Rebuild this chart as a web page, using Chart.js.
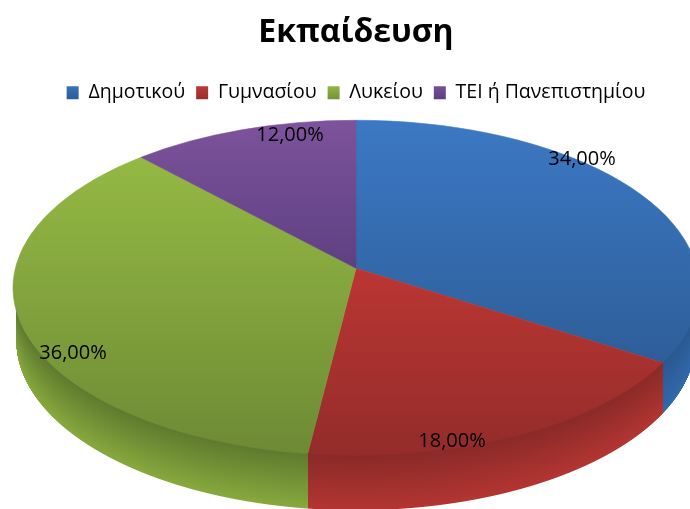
<!DOCTYPE html>
<html><head><meta charset="utf-8">
<script src="https://cdn.jsdelivr.net/npm/chart.js@4"></script>
<style>html,body{margin:0;padding:0;background:#fff}#w{width:690px;height:509px;position:relative;overflow:hidden}</style>
</head><body><div id="w"><canvas id="c" width="690" height="509"></canvas></div>
<script>
const titleText = 'Εκπαίδευση';
const categories = ['Δημοτικού', 'Γυμνασίου', 'Λυκείου', 'ΤΕΙ ή Πανεπιστημίου'];
const shares = [34, 18, 36, 12];
const faceTop = ['#3c78c4', '#c93b38', '#99be45', '#7d539c'];
const faceMid = ['#3369aa', '#bb3633', '#86a83f', '#5e4082'];
const faceBottom = ['#295389', '#932c2a', '#6d8a34', '#4c3369'];
const wallTop = ['#2a5890', '#8a2a28', '#5f7a2f', '#4c3369'];
const wallBottom = ['#3169ac', '#b33532', '#87a93d', '#5e4082'];
const swatchTop = ['#3a75c0', '#c43a37', '#98bc45', '#7a519a'];
const swatchBottom = ['#2c5e97', '#982e2c', '#75933a', '#5f4083'];
const labelCentres = [[582, 159], [452, 441], [73, 353], [290, 135]];

// Perspective of the tilted disc: unit circle -> screen, about the pie's centre.
const PERSP = 0.1164, SCALE_X = 340.7, SCALE_Y = 165.2;
const RIM_DY = 19.5, RIM_RX = 343, RIM_RY = 167.5;     // outline ellipse of the top face
const BASE_DY = 72, BASE_RX = 340, BASE_RY = 170;      // outline ellipse of the bottom face
const FONT = '"Open Sans", "Noto Sans", sans-serif';

function rimAngle(a) {
  const u = Math.cos(a), v = Math.sin(a), w = 1 - PERSP * v;
  const X = SCALE_X * u / w, Y = SCALE_Y * v / w;
  return Math.atan2((Y - RIM_DY) / RIM_RY, X / RIM_RX);
}
function rimRange(startAngle, endAngle) {
  let t0 = rimAngle(startAngle), t1 = rimAngle(endAngle);
  if (t0 < -Math.PI / 2 - 0.001) t0 += 2 * Math.PI;
  while (t1 <= t0) t1 += 2 * Math.PI;
  return [t0, t1];
}
function faceFill(ctx, i) {
  const g = ctx.createLinearGradient(0, 120, 0, 455);
  g.addColorStop(0, faceTop[i]); g.addColorStop(0.44, faceMid[i]); g.addColorStop(1, faceBottom[i]);
  return g;
}

class TiltedArc extends Chart.ArcElement {
  static id = 'tiltedArc';
  draw(ctx) {
    const { x, y, startAngle, endAngle } = this.getProps(['x', 'y', 'startAngle', 'endAngle']);
    const [t0, t1] = rimRange(startAngle, endAngle);
    ctx.save();
    ctx.fillStyle = this.options.backgroundColor;
    ctx.strokeStyle = this.options.backgroundColor;
    ctx.lineWidth = 0.6;
    ctx.beginPath();
    ctx.moveTo(x, y);
    ctx.ellipse(x, y + RIM_DY, RIM_RX, RIM_RY, 0, t0, t1);
    ctx.closePath();
    ctx.fill();
    ctx.stroke();
    ctx.restore();
  }
}
class TiltedPie extends Chart.PieController {
  static id = 'tiltedPie';
  static defaults = { dataElementType: 'tiltedArc' };
}
Chart.register(TiltedArc, TiltedPie);

const sideWall = {
  id: 'sideWall',
  beforeDatasetsDraw(chart) {
    const ctx = chart.ctx, meta = chart.getDatasetMeta(0);
    meta.data.forEach((arc, i) => {
      const cx = arc.x, cy = arc.y;
      const [t0, t1] = rimRange(arc.startAngle, arc.endAngle);
      [[Math.max(t0, 0), Math.min(t1, Math.PI)],
       [Math.max(t0 - 2 * Math.PI, 0), Math.min(t1 - 2 * Math.PI, Math.PI)]].forEach(([s, e]) => {
        if (e <= s) return;
        const xa = Math.round(cx + RIM_RX * Math.cos(e)), xb = Math.round(cx + RIM_RX * Math.cos(s));
        for (let x = xa; x < xb; x++) {
          const dx = x + 0.5 - cx;
          if (Math.abs(dx) >= BASE_RX) continue;
          const yt = cy + RIM_DY + RIM_RY * Math.sqrt(1 - (dx / RIM_RX) ** 2);
          const yb = cy + BASE_DY + BASE_RY * Math.sqrt(1 - (dx / BASE_RX) ** 2);
          const g = ctx.createLinearGradient(0, yt, 0, yb);
          g.addColorStop(0, wallTop[i]); g.addColorStop(1, wallBottom[i]);
          ctx.fillStyle = g;
          ctx.fillRect(x, yt - 2, 1, yb - yt + 2);
        }
      });
    });
  },
  afterDraw(chart) {
    const ctx = chart.ctx;
    ctx.save();
    ctx.fillStyle = '#000';
    ctx.font = '20px ' + FONT;
    ctx.textAlign = 'center'; ctx.textBaseline = 'middle';
    shares.forEach((v, i) => {
      ctx.fillText(v.toFixed(2).replace('.', ',') + '%', labelCentres[i][0], labelCentres[i][1]);
    });
    ctx.restore();
  }
};

const canvas = document.getElementById('c');
new Chart(canvas, {
  type: 'tiltedPie',
  data: {
    labels: categories,
    datasets: [{
      data: shares,
      borderWidth: 0,
      clip: false,
      backgroundColor: (c) => faceFill(c.chart.ctx, c.dataIndex)
    }]
  },
  options: {
    responsive: false,
    animation: false,
    radius: RIM_RX,
    layout: { padding: { left: 22, right: 0, top: 0, bottom: 85 } },
    plugins: {
      tooltip: { enabled: false },
      title: {
        display: true, text: titleText, color: '#000',
        font: { family: FONT, size: 32, weight: 'bold' },
        padding: { top: 14, bottom: 19.6 }
      },
      legend: {
        display: true, position: 'top',
        labels: {
          color: '#000',
          font: { family: FONT, size: 19.5 },
          boxWidth: 12, boxHeight: 13, padding: 11,
          generateLabels(chart) {
            return categories.map((t, i) => {
              const g = chart.ctx.createLinearGradient(0, 84, 0, 99);
              g.addColorStop(0, swatchTop[i]); g.addColorStop(1, swatchBottom[i]);
              return { text: t, fillStyle: g, strokeStyle: 'transparent', lineWidth: 0, index: i };
            });
          }
        }
      }
    }
  },
  plugins: [sideWall]
});
</script></body></html>
